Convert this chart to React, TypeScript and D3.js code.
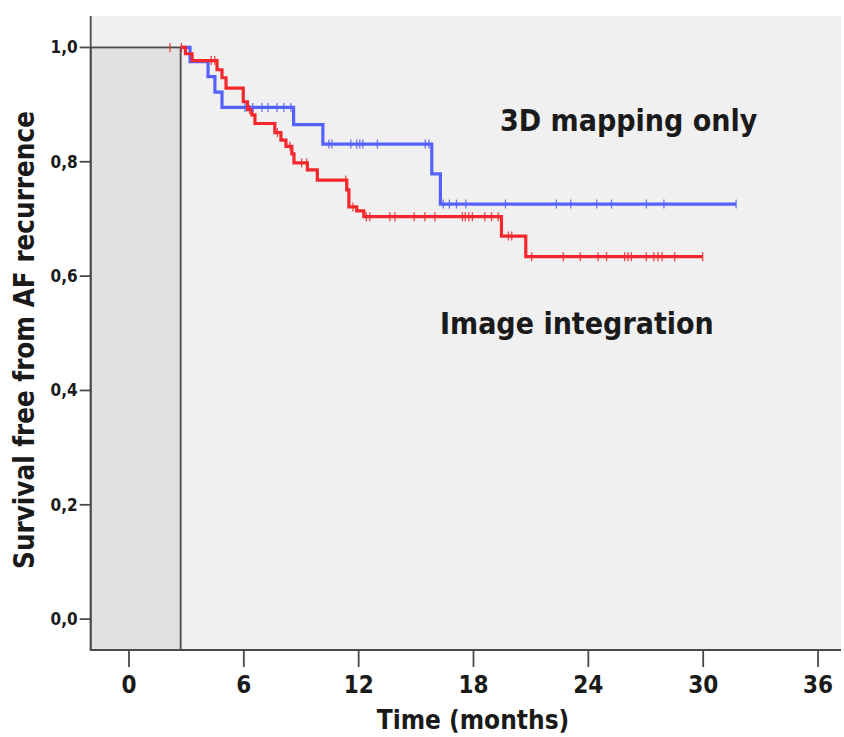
import { useEffect, useRef } from 'react'
import * as d3 from 'd3'

// Kaplan-Meier estimates (months, survival)
const mappingTimes = [3.19, 4.13, 4.49, 4.86, 8.6, 10.13, 15.82, 16.27]
const mappingSurv = [0.975, 0.949, 0.922, 0.895, 0.865, 0.831, 0.779, 0.726]
const mappingCensored = [6.06, 6.47, 6.95, 7.26, 7.73, 8.09, 8.46, 10.44, 10.6, 11.59, 11.9, 12.06, 12.22, 12.98,
  15.48, 15.67, 16.42, 16.74, 17.11, 17.6, 19.67, 22.33, 23.08, 24.44, 25.21, 27.03, 27.95, 31.72]

const integrationTimes = [2.95, 3.3, 4.6, 4.86, 5.07, 5.97, 6.19, 6.42, 6.58, 7.62, 7.94, 8.2, 8.51, 8.62, 9.32,
  9.84, 11.38, 11.49, 11.9, 12.27, 19.46, 20.73]
const integrationSurv = [0.989, 0.977, 0.961, 0.947, 0.929, 0.905, 0.891, 0.882, 0.867, 0.851, 0.838, 0.827, 0.814,
  0.798, 0.786, 0.768, 0.751, 0.721, 0.714, 0.704, 0.67, 0.634]
const integrationCensored = [2.14, 2.74, 4.3, 4.48, 6.3, 7.75, 8.41, 9.02, 9.28, 11.33, 11.7, 12.4, 12.58, 13.63,
  13.89, 14.9, 15.46, 15.98, 17.42, 17.57, 17.75, 17.94, 18.59, 18.94, 19.29, 19.82, 20.0, 21.04, 22.69, 23.58,
  24.51, 24.95, 25.9, 26.07, 26.25, 27.03, 27.42, 27.64, 27.86, 28.51, 29.97]

const blankingPeriod = 2.7
const xTicks = [0, 6, 12, 18, 24, 30, 36]
const yTicks = [0, 0.2, 0.4, 0.6, 0.8, 1.0]

const WIDTH = 844
const HEIGHT = 737
const FONT = "'DejaVu Sans Condensed', 'DejaVu Sans', sans-serif"

function survAt(times, surv, t) {
  let s = 1
  times.forEach((et, i) => { if (et <= t) s = surv[i] })
  return s
}

export default function App() {
  const svgRef = useRef(null)

  useEffect(() => {
    const svg = d3.select(svgRef.current)
    svg.selectAll('*').remove()

    const left = 90.7, right = 841, top = 16, bottom = 650
    const x = d3.scaleLinear().domain([-2, 37.2]).range([left, right])
    const y = d3.scaleLinear().domain([-0.054, 1.055]).range([bottom, top])

    // plot background
    svg.append('rect')
      .attr('x', left).attr('y', top)
      .attr('width', right - left).attr('height', bottom - top)
      .attr('fill', '#f0f0f0')

    const groups = [
      { times: mappingTimes, surv: mappingSurv, cens: mappingCensored, color: '#5561fb' },
      { times: integrationTimes, surv: integrationSurv, cens: integrationCensored, color: '#f4282c' },
    ]

    // blanking period box
    svg.append('rect')
      .attr('x', left).attr('y', y(1))
      .attr('width', x(blankingPeriod) - left)
      .attr('height', bottom - y(1))
      .attr('fill', '#e1e1e1')
      .attr('stroke', '#4a4a4a')
      .attr('stroke-width', 1.8)

    const line = d3.line().x(d => x(d[0])).y(d => y(d[1])).curve(d3.curveStepAfter)

    groups.forEach(g => {
      const end = d3.max(g.cens)
      const pts = [[blankingPeriod, 1], ...g.times.map((t, i) => [t, g.surv[i]]), [end, g.surv[g.surv.length - 1]]]
      svg.append('path')
        .datum(pts)
        .attr('d', line)
        .attr('fill', 'none')
        .attr('stroke', g.color)
        .attr('stroke-width', 3.2)
        .attr('stroke-linejoin', 'miter')
    })

    // censor marks
    groups.forEach(g => {
      svg.append('g').selectAll('line')
        .data(g.cens)
        .join('line')
        .attr('x1', d => x(d)).attr('x2', d => x(d))
        .attr('y1', d => y(survAt(g.times, g.surv, d)) - 4.5)
        .attr('y2', d => y(survAt(g.times, g.surv, d)) + 4.5)
        .attr('stroke', g.color)
        .attr('stroke-width', 1.3)
        .attr('opacity', 0.85)
    })

    // axes
    const axisColor = '#4a4a4a'
    svg.append('line')
      .attr('x1', left).attr('x2', left).attr('y1', top).attr('y2', bottom)
      .attr('stroke', axisColor).attr('stroke-width', 1.8)
    svg.append('line')
      .attr('x1', left).attr('x2', right).attr('y1', bottom).attr('y2', bottom)
      .attr('stroke', axisColor).attr('stroke-width', 1.8)

    const xa = svg.append('g')
    xTicks.forEach(t => {
      xa.append('line')
        .attr('x1', x(t)).attr('x2', x(t)).attr('y1', bottom).attr('y2', bottom + 17)
        .attr('stroke', axisColor).attr('stroke-width', 1.8)
      xa.append('text')
        .attr('x', x(t)).attr('y', bottom + 43)
        .attr('text-anchor', 'middle')
        .attr('font-family', FONT).attr('font-weight', 'bold').attr('font-size', 24)
        .attr('fill', '#1a1a1a')
        .text(t)
    })

    const ya = svg.append('g')
    yTicks.forEach(v => {
      ya.append('line')
        .attr('x1', left - 11).attr('x2', left).attr('y1', y(v)).attr('y2', y(v))
        .attr('stroke', axisColor).attr('stroke-width', 1.8)
      ya.append('text')
        .attr('x', left - 13).attr('y', y(v) + 6)
        .attr('text-anchor', 'end')
        .attr('font-family', FONT).attr('font-weight', 'bold').attr('font-size', 17)
        .attr('fill', '#1a1a1a')
        .text(d3.format('.1f')(v).replace('.', ','))
    })

    svg.append('text')
      .attr('x', 473).attr('y', 729)
      .attr('text-anchor', 'middle')
      .attr('font-family', FONT).attr('font-weight', 'bold').attr('font-size', 26)
      .attr('fill', '#1a1a1a')
      .text('Time (months)')

    svg.append('text')
      .attr('transform', `translate(34,${(112 + 568) / 2}) rotate(-90)`)
      .attr('text-anchor', 'middle')
      .attr('font-family', FONT).attr('font-weight', 'bold').attr('font-size', 27.5)
      .attr('fill', '#1a1a1a')
      .text('Survival free from AF recurrence')

    // group labels
    svg.append('text')
      .attr('x', 500).attr('y', 131)
      .attr('font-family', FONT).attr('font-weight', 'bold').attr('font-size', 30)
      .attr('fill', '#1a1a1a')
      .text('3D mapping only')
    svg.append('text')
      .attr('x', 440).attr('y', 334)
      .attr('font-family', FONT).attr('font-weight', 'bold').attr('font-size', 30)
      .attr('fill', '#1a1a1a')
      .text('Image integration')
  }, [])

  return (
    <svg ref={svgRef} width={WIDTH} height={HEIGHT}
      style={{ position: 'absolute', left: 0, top: 0, background: '#fff' }} />
  )
}
